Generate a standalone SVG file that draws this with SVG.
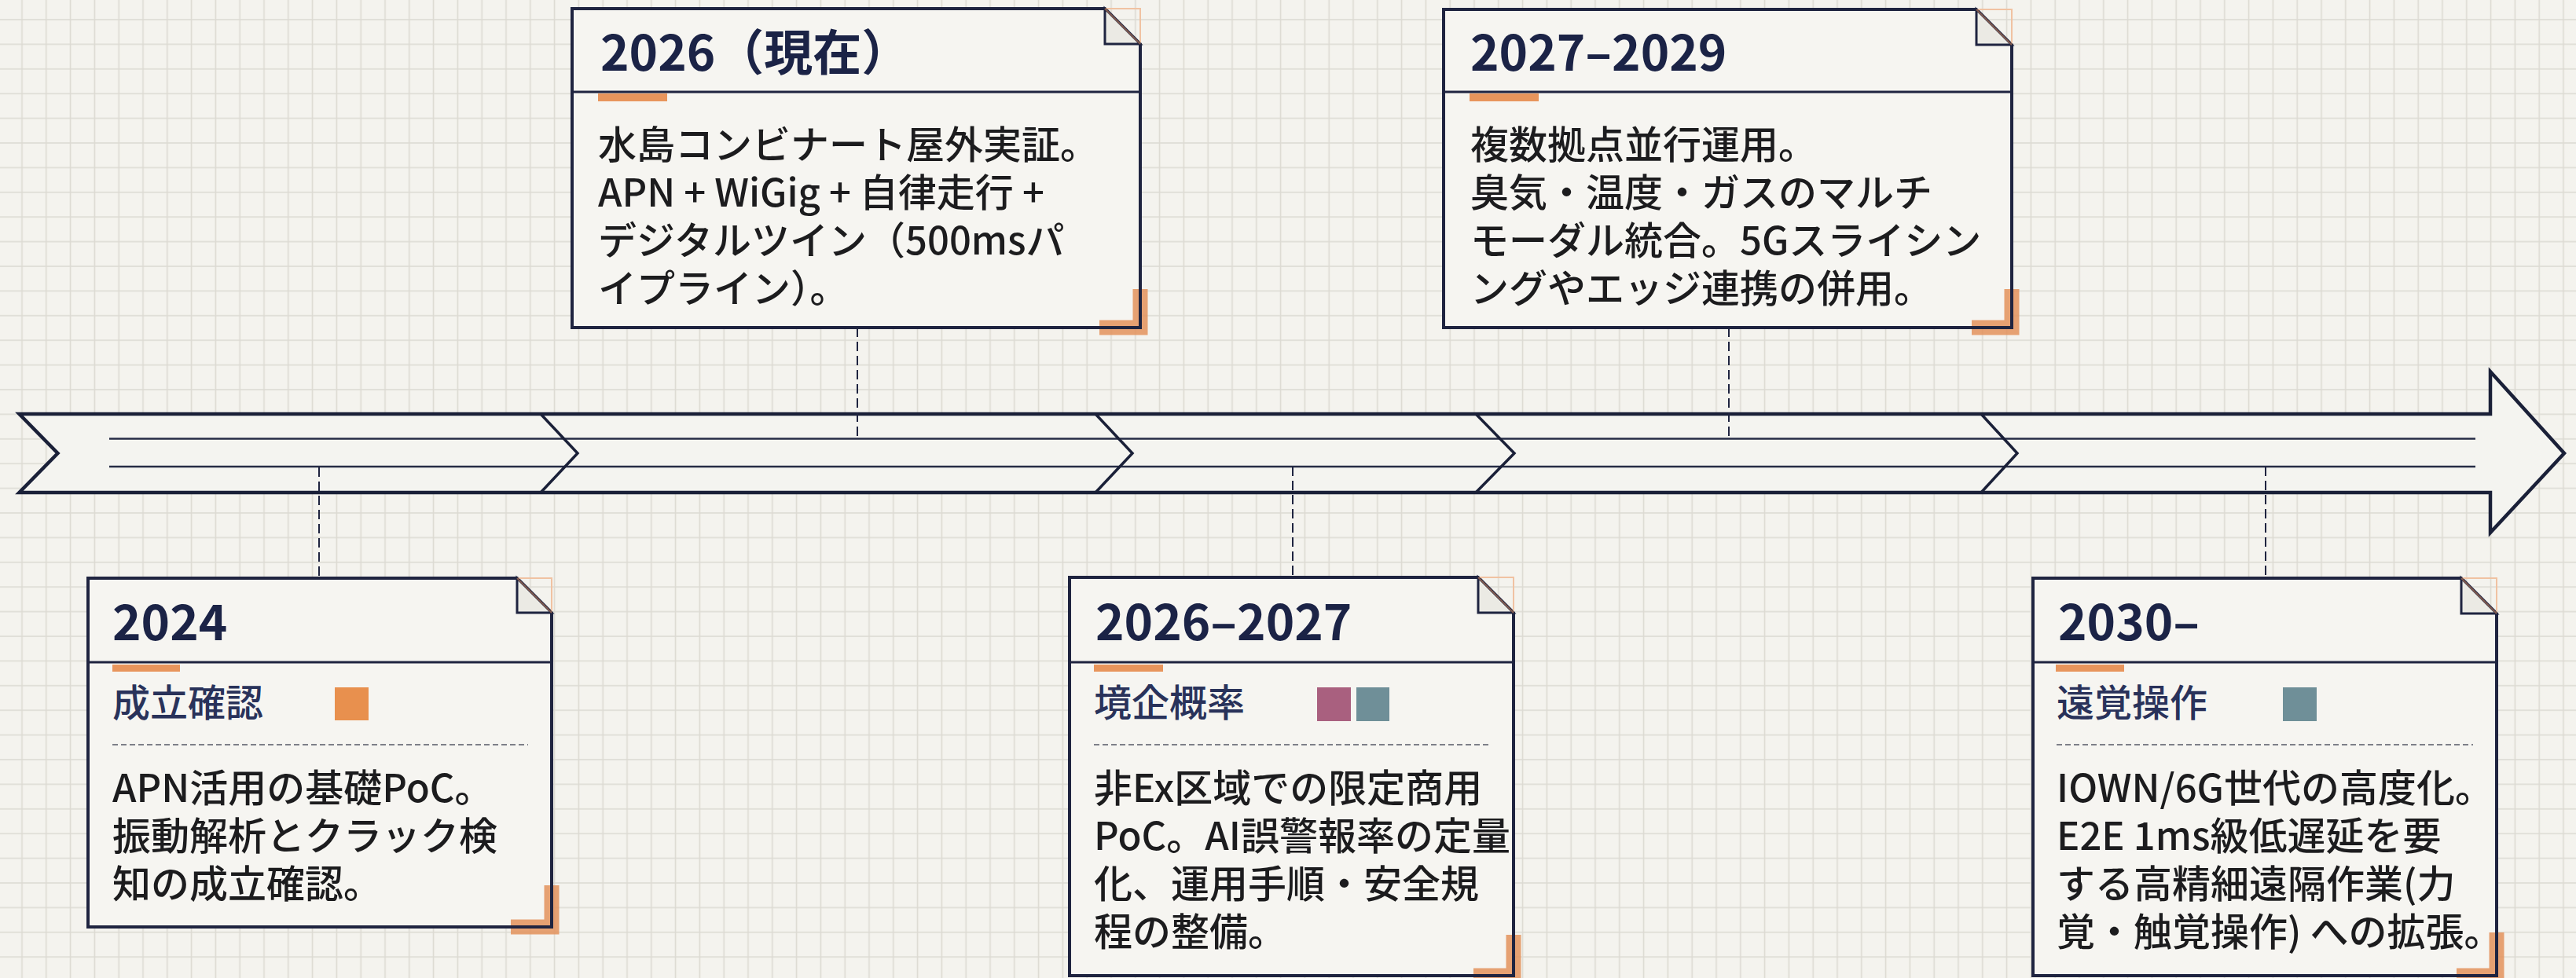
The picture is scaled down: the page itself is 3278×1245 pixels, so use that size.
<svg xmlns="http://www.w3.org/2000/svg" width="3278" height="1245" viewBox="0 0 3278 1245">
<style>
.title{font-family:"Noto Sans CJK JP","Noto Sans",sans-serif;font-weight:700;font-size:62px;fill:#1b2346}
.sub{font-family:"Noto Sans CJK JP","Noto Sans",sans-serif;font-weight:500;font-size:48px;fill:#29325a}
.body{font-family:"Noto Sans CJK JP","Noto Sans",sans-serif;font-weight:500;font-size:49px;fill:#1c1c1e}
.boxfill{fill:#f6f5f1;stroke:none}
.boxline{fill:none;stroke:#1f2440;stroke-width:4;stroke-linejoin:miter}
.fold{fill:#ebeae4;stroke:#1f2440;stroke-width:3}
.foldhint{fill:none;stroke:#f0c2a2;stroke-width:2}
.folddiag{stroke:#c4805a;stroke-width:2;opacity:0.6}
.divider{stroke:#1f2440;stroke-width:3}
.bar{fill:#e8955c}
.sep{stroke:#7d7f88;stroke-width:2;stroke-dasharray:7 4}
.bracket{fill:none;stroke:#e3925c;stroke-width:19;opacity:0.85;stroke-linejoin:miter}
.conn{stroke:#1f2440;stroke-width:2;stroke-dasharray:12 6;fill:none}
.arrow{fill:#f4f4f0;stroke:#1a2038;stroke-width:4.5;stroke-linejoin:miter}
.inner{stroke:#262c45;stroke-width:2.5;fill:none}
.chev{stroke:#1a2038;stroke-width:3.5;fill:none}
</style>
<defs>
<pattern id="grid" patternUnits="userSpaceOnUse" x="12.6" y="9.3" width="30.8" height="31.4">
<path d="M15.4 0 V31.4 M0 15.7 H30.8" stroke="#dcdad2" stroke-width="1.6" fill="none"/>
</pattern>
</defs>
<rect width="3278" height="1245" fill="#f4f3ee"/>
<rect width="3278" height="1245" fill="url(#grid)"/>

<g id="timeline-arrow">
<path class="arrow" d="M24.5 527 H3169 V473 L3263 577 L3169 678 V627 H24.5 L73.5 577 Z"/>
<path class="inner" d="M139 558.5 H3150 M139 594 H3150"/>
<path class="chev" d="M688 527 L735 577 L688 627 M1394 527 L1441 577 L1394 627 M1878 527 L1927 577 L1878 627 M2521 527 L2567 577 L2521 627"/>
</g>

<g id="connectors">
<line class="conn" x1="406" y1="595" x2="406" y2="736"/>
<line class="conn" x1="1091" y1="417" x2="1091" y2="558"/>
<line class="conn" x1="2200" y1="417" x2="2200" y2="558"/>
<line class="conn" x1="1645" y1="594" x2="1645" y2="735"/>
<line class="conn" x1="2883" y1="594" x2="2883" y2="736"/>
</g>

<g id="node-2024">
<path class="boxfill" d="M112 736 H658 L702 780 V1180 H112 Z"/>
<path class="bracket" d="M702 1127 V1180 H650"/>
<path class="boxline" d="M112 736 H658 L702 780 V1180 H112 Z"/>
<path class="foldhint" d="M658 736 H702 V780"/>
<path class="fold" d="M658 736 V780 H702 Z"/>
<line class="folddiag" x1="658" y1="736" x2="702" y2="780"/>
<line class="divider" x1="112" y1="843" x2="702" y2="843"/>
<rect class="bar" x="143" y="846" width="86" height="9"/>
<text class="title" x="143" y="815">2024</text>
<text class="sub" x="143" y="912">成立確認</text>
<rect x="426" y="875" width="43" height="42" fill="#e8904e"/>
<line class="sep" x1="143" y1="948" x2="672" y2="948"/>
<text class="body" x="143" y="1021"><tspan x="143" y="1021">APN活用の基礎PoC。</tspan><tspan x="143" y="1082">振動解析とクラック検</tspan><tspan x="143" y="1143">知の成立確認。</tspan></text>
</g>

<g id="node-2026">
<path class="boxfill" d="M728 11 H1406 L1451 56 V417 H728 Z"/>
<path class="bracket" d="M1451 368 V417 H1399"/>
<path class="boxline" d="M728 11 H1406 L1451 56 V417 H728 Z"/>
<path class="foldhint" d="M1406 11 H1451 V56"/>
<path class="fold" d="M1406 11 V56 H1451 Z"/>
<line class="folddiag" x1="1406" y1="11" x2="1451" y2="56"/>
<line class="divider" x1="728" y1="117" x2="1451" y2="117"/>
<rect class="bar" x="761" y="119" width="88" height="10"/>
<text class="title" x="764" y="90">2026（現在）</text>
<text class="body" x="761" y="202"><tspan x="761" y="202">水島コンビナート屋外実証。</tspan><tspan x="761" y="263">APN + WiGig + 自律走行 +</tspan><tspan x="761" y="324">デジタルツイン（500msパ</tspan><tspan x="761" y="385">イプライン）。</tspan></text>
</g>

<g id="node-2027-2029">
<path class="boxfill" d="M1837 12 H2515 L2560 57 V417 H1837 Z"/>
<path class="bracket" d="M2560 368 V417 H2509"/>
<path class="boxline" d="M1837 12 H2515 L2560 57 V417 H1837 Z"/>
<path class="foldhint" d="M2515 12 H2560 V57"/>
<path class="fold" d="M2515 12 V57 H2560 Z"/>
<line class="folddiag" x1="2515" y1="12" x2="2560" y2="57"/>
<line class="divider" x1="1837" y1="117" x2="2560" y2="117"/>
<rect class="bar" x="1870" y="119" width="88" height="10"/>
<text class="title" x="1871" y="90">2027–2029</text>
<text class="body" x="1871" y="202"><tspan x="1871" y="202">複数拠点並行運用。</tspan><tspan x="1871" y="263">臭気・温度・ガスのマルチ</tspan><tspan x="1871" y="324">モーダル統合。5Gスライシン</tspan><tspan x="1871" y="385">ングやエッジ連携の併用。</tspan></text>
</g>

<g id="node-2026-2027">
<path class="boxfill" d="M1361 735 H1881 L1926 780 V1242 H1361 Z"/>
<path class="bracket" d="M1926 1190 V1242 H1875"/>
<path class="boxline" d="M1361 735 H1881 L1926 780 V1242 H1361 Z"/>
<path class="foldhint" d="M1881 735 H1926 V780"/>
<path class="fold" d="M1881 735 V780 H1926 Z"/>
<line class="folddiag" x1="1881" y1="735" x2="1926" y2="780"/>
<line class="divider" x1="1361" y1="843" x2="1926" y2="843"/>
<rect class="bar" x="1392" y="846" width="88" height="9"/>
<text class="title" x="1394" y="815">2026–2027</text>
<text class="sub" x="1392" y="912">境企概率</text>
<rect x="1676" y="875" width="43" height="43" fill="#a9607f"/>
<rect x="1726" y="875" width="42" height="43" fill="#6f8f98"/>
<line class="sep" x1="1392" y1="948" x2="1898" y2="948"/>
<text class="body" x="1392" y="1021"><tspan x="1392" y="1021">非Ex区域での限定商用</tspan><tspan x="1392" y="1082">PoC。AI誤警報率の定量</tspan><tspan x="1392" y="1143">化、運用手順・安全規</tspan><tspan x="1392" y="1204">程の整備。</tspan></text>
</g>

<g id="node-2030">
<path class="boxfill" d="M2587 736 H3132 L3177 781 V1242 H2587 Z"/>
<path class="bracket" d="M3177 1187 V1242 H3126"/>
<path class="boxline" d="M2587 736 H3132 L3177 781 V1242 H2587 Z"/>
<path class="foldhint" d="M3132 736 H3177 V781"/>
<path class="fold" d="M3132 736 V781 H3177 Z"/>
<line class="folddiag" x1="3132" y1="736" x2="3177" y2="781"/>
<line class="divider" x1="2587" y1="843" x2="3177" y2="843"/>
<rect class="bar" x="2616" y="846" width="87" height="9"/>
<text class="title" x="2619" y="815">2030–</text>
<text class="sub" x="2617" y="912">遠覚操作</text>
<rect x="2905" y="875" width="43" height="43" fill="#6f8f98"/>
<line class="sep" x1="2617" y1="948" x2="3147" y2="948"/>
<text class="body" x="2617" y="1021"><tspan x="2617" y="1021">IOWN/6G世代の高度化。</tspan><tspan x="2617" y="1082">E2E 1ms級低遅延を要</tspan><tspan x="2617" y="1143">する高精細遠隔作業(力</tspan><tspan x="2617" y="1204">覚・触覚操作) への拡張。</tspan></text>
</g>
</svg>
